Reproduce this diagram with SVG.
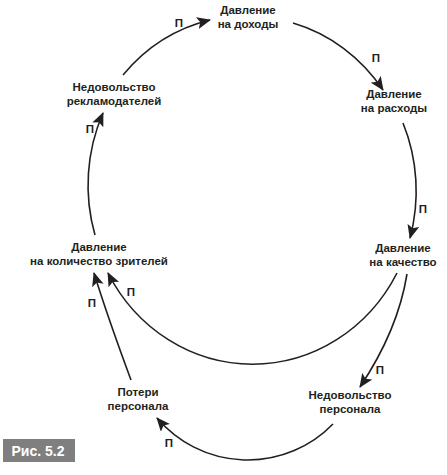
<svg xmlns="http://www.w3.org/2000/svg" width="447" height="475" viewBox="0 0 447 475">
<style>
.n{font-family:"Liberation Sans",Arial,sans-serif;font-size:11.5px;font-weight:bold;fill:#231f20;text-anchor:middle}
.p{font-family:"Liberation Sans",Arial,sans-serif;font-size:11.5px;font-weight:bold;fill:#231f20;text-anchor:middle}
.c{fill:none;stroke:#231f20;stroke-width:1.6}
</style>
<defs>
<marker id="ah" markerUnits="userSpaceOnUse" markerWidth="14" markerHeight="12" viewBox="0 0 14 12" refX="13" refY="6" orient="auto">
<path d="M0,0 L14,6 L0,12 L3,6 Z" fill="#231f20"/>
</marker>
</defs>
<rect width="447" height="475" fill="#fff"/>
<g id="connectors">
<path class="c" marker-end="url(#ah)" d="M123,75 A164,173 0 0 1 210,20"/>
<path class="c" marker-end="url(#ah)" d="M293,23 A164,173 0 0 1 383,90"/>
<path class="c" marker-end="url(#ah)" d="M403,123 A164,173 0 0 1 410,238"/>
<path class="c" marker-end="url(#ah)" d="M397,273 A164,173 0 0 1 108,273"/>
<path class="c" marker-end="url(#ah)" d="M95,235 A164,173 0 0 1 103,113"/>
<path class="c" marker-end="url(#ah)" d="M407,274 Q398,330 360,387"/>
<path class="c" marker-end="url(#ah)" d="M333,424 A119,119 0 0 1 157,418"/>
<path class="c" marker-end="url(#ah)" d="M131,380 Q108,318 94,273"/>
<g id="labels">
<text class="p" x="179" y="27">П</text>
<text class="p" x="376" y="62">П</text>
<text class="p" x="423" y="213">П</text>
<text class="p" x="90" y="133">П</text>
<text class="p" x="92" y="307">П</text>
<text class="p" x="131" y="296">П</text>
<text class="p" x="380" y="374">П</text>
<text class="p" x="169" y="447">П</text>
</g>
</g>
<g id="n-dohody"><text class="n" x="248" y="14">Давление</text><text class="n" x="248" y="28">на доходы</text></g>
<g id="n-rashody"><text class="n" x="394" y="98">Давление</text><text class="n" x="394" y="112">на расходы</text></g>
<g id="n-kachestvo"><text class="n" x="403" y="252">Давление</text><text class="n" x="403" y="266">на качество</text></g>
<g id="n-zriteli"><text class="n" x="99" y="251">Давление</text><text class="n" x="99" y="265">на количество зрителей</text></g>
<g id="n-reklama"><text class="n" x="114" y="91">Недовольство</text><text class="n" x="114" y="105">рекламодателей</text></g>
<g id="n-poteri"><text class="n" x="138" y="396">Потери</text><text class="n" x="138" y="410">персонала</text></g>
<g id="n-personal"><text class="n" x="350" y="399">Недовольство</text><text class="n" x="350" y="413">персонала</text></g>
<g id="fig">
<rect x="3" y="439" width="72" height="23" fill="#7f7f7f"/>
<text x="38" y="456" font-family="'Liberation Sans',Arial,sans-serif" font-size="14" font-weight="bold" fill="#fff" text-anchor="middle">Рис. 5.2</text>
</g>
</svg>
